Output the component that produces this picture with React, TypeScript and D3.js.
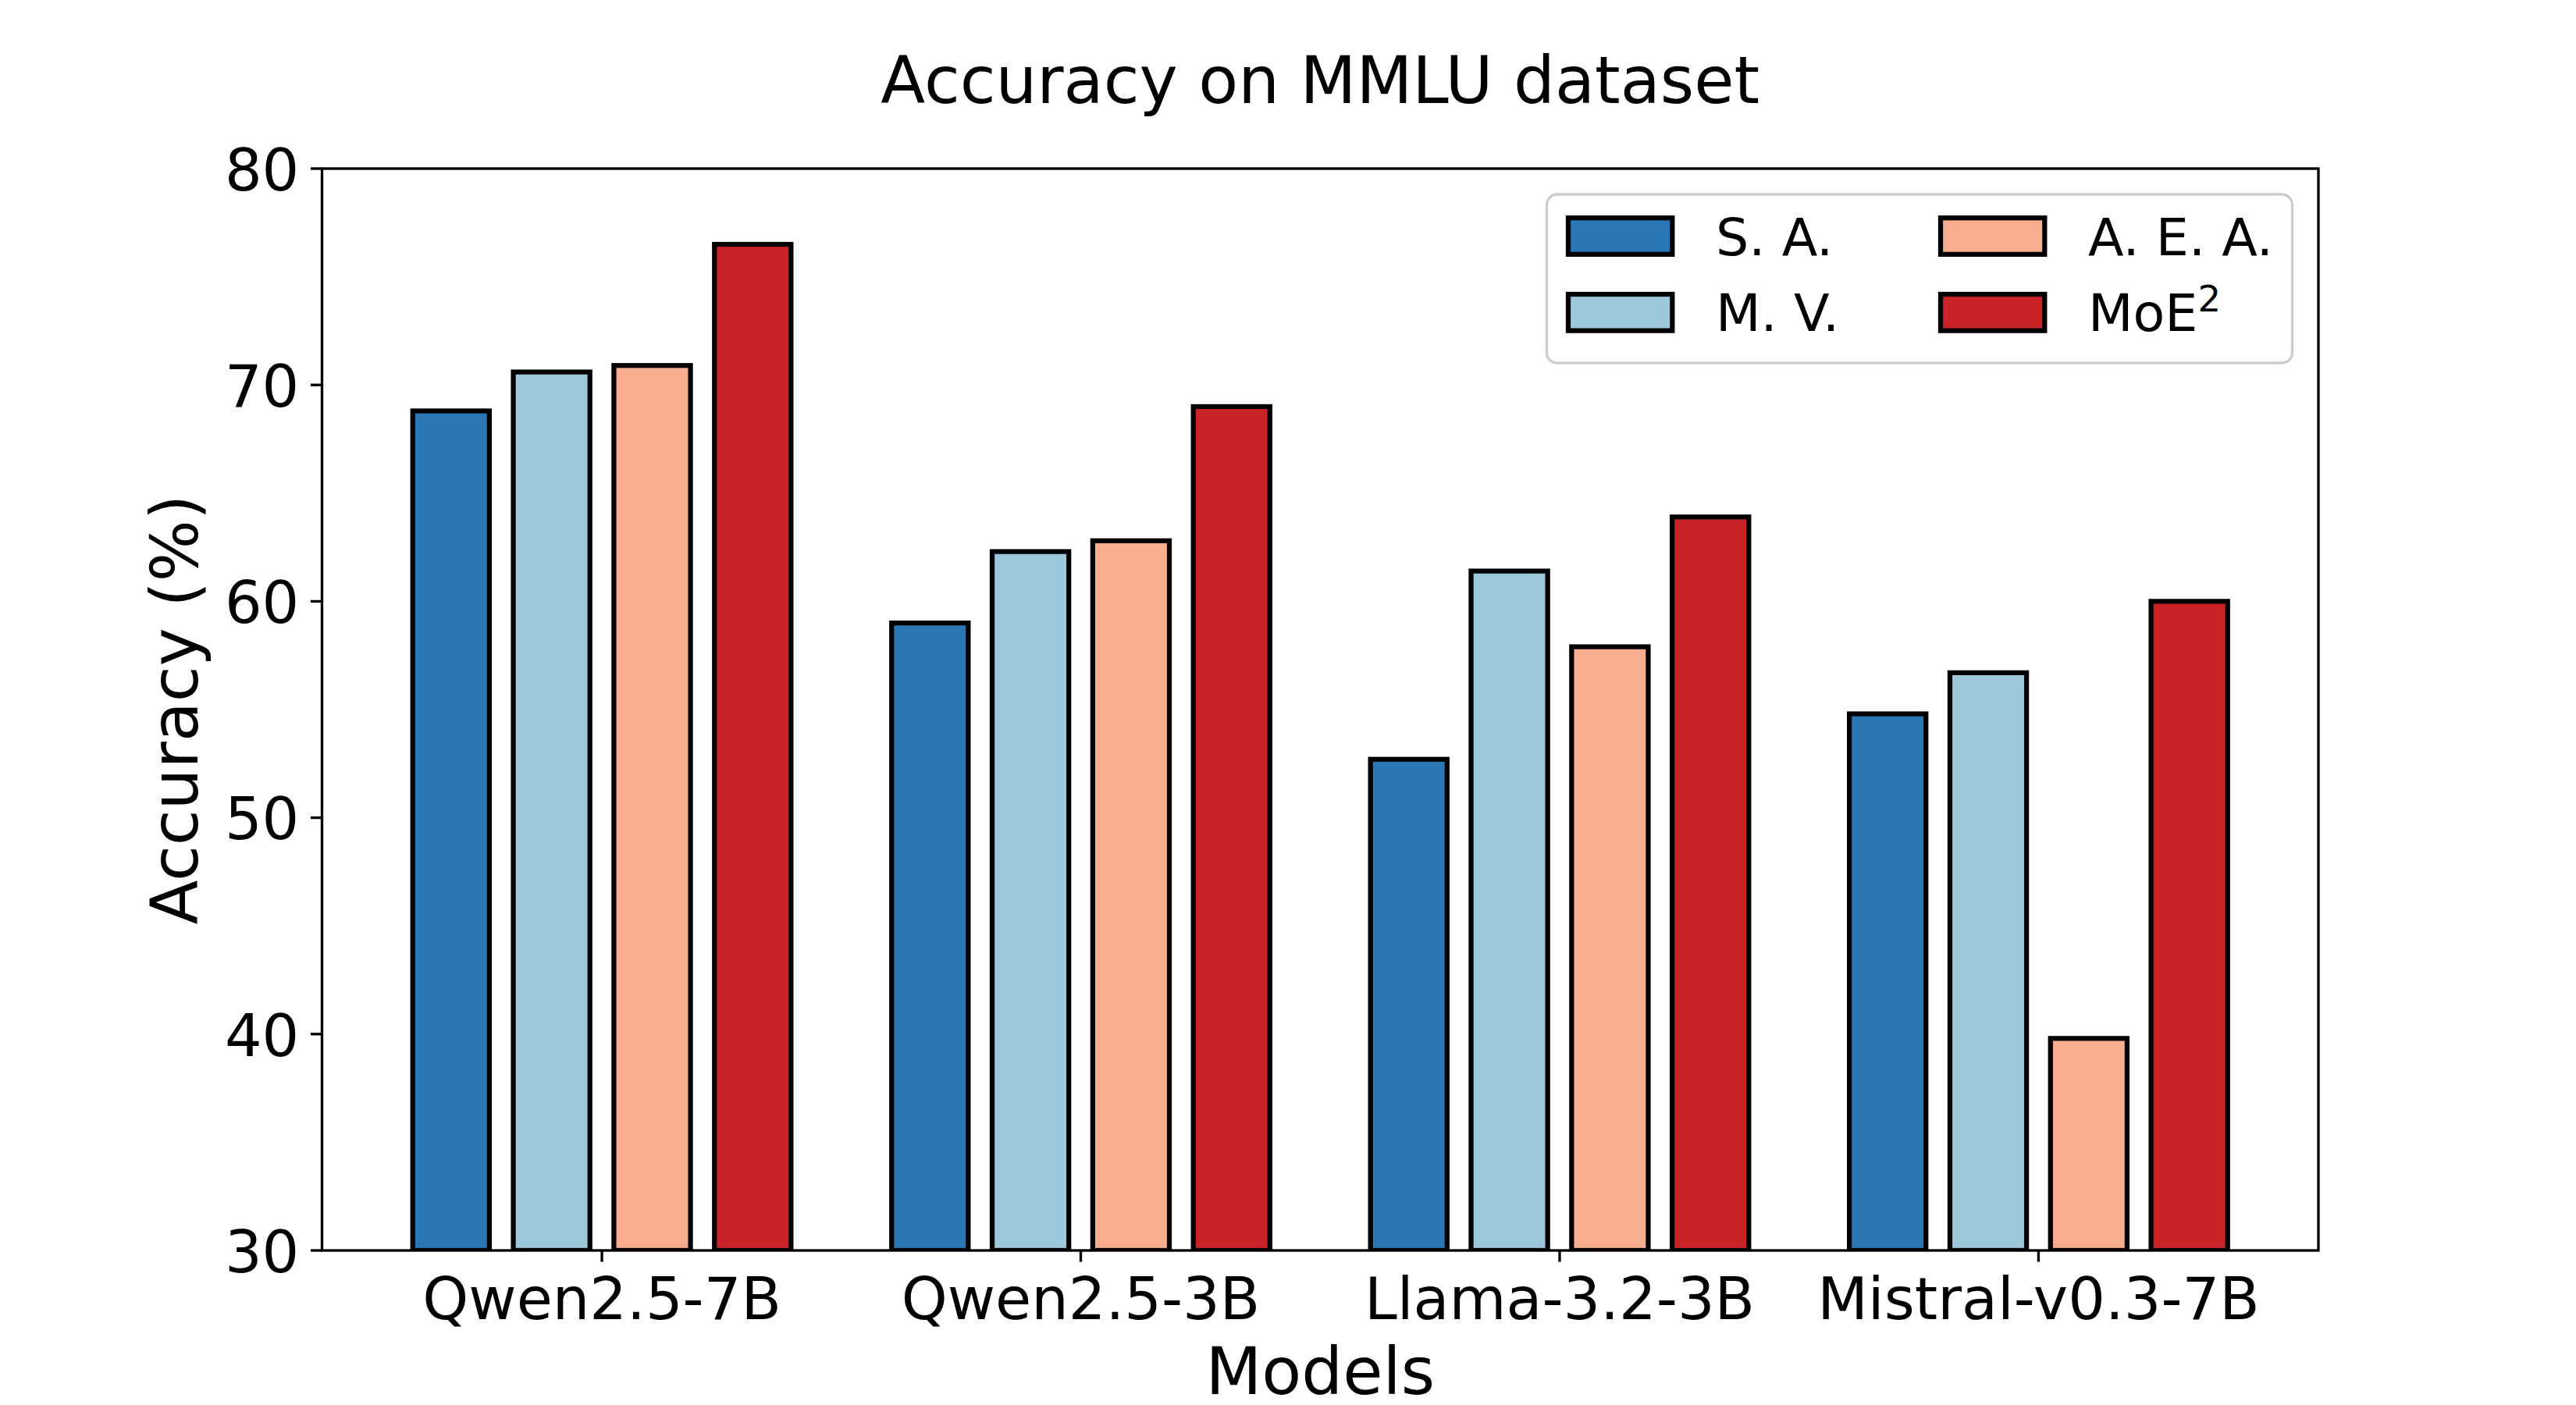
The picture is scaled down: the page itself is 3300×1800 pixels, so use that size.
import React from 'react';
import * as d3 from 'd3';

const models = ['Qwen2.5-7B', 'Qwen2.5-3B', 'Llama-3.2-3B', 'Mistral-v0.3-7B'];
const methods = ['S. A.', 'M. V.', 'A. E. A.', 'MoE2'];
const colors = ['#2a77b4', '#9dc8dc', '#f7ad8e', '#c82427'];

const saValues = [68.8, 59.0, 52.7, 54.8];
const mvValues = [70.6, 62.3, 61.4, 56.7];
const aeaValues = [70.9, 62.8, 57.9, 39.8];
const moeValues = [76.5, 69.0, 63.9, 60.0];
const seriesValues = [saValues, mvValues, aeaValues, moeValues];

const yTicks = [30, 40, 50, 60, 70, 80];

const W = 3300;
const H = 1800;
const left = 412.5;
const right = 2970;
const top = 216;
const bottom = 1602;

const font = '"DejaVu Sans", Verdana, sans-serif';
const PT = 300 / 72;

export default function App() {
  // matplotlib-like bar layout: width 0.16, step 0.21, 5% margins
  const barW = 0.16;
  const step = 0.21;
  const n = methods.length;
  const x0 = -((n - 1) / 2) * step - barW / 2;
  const x1 = models.length - 1 + ((n - 1) / 2) * step + barW / 2;
  const pad = (x1 - x0) * 0.05;

  const x = d3.scaleLinear().domain([x0 - pad, x1 + pad]).range([left, right]);
  const y = d3.scaleLinear().domain([30, 80]).range([bottom, top]);

  const tickLen = 3.5 * PT;
  const tickPad = 3.5 * PT;
  const spineW = 0.8 * PT;
  const edgeW = 1.5 * PT;
  const tickFs = 18 * PT;
  const labelFs = 20 * PT;
  const legendFs = 16 * PT;

  // legend layout
  const legX = 1981.5;
  const legY = 249;
  const legW = 955;
  const legH = 216;
  const colPatchX = [2009, 2486];
  const colTextX = [2198, 2675];
  const rowY = [302.5, 400.3];
  const patchW = 2 * legendFs;
  const patchH = 0.7 * legendFs;

  return (
    <svg
      width={W}
      height={H}
      viewBox={`0 0 ${W} ${H}`}
      style={{ position: 'absolute', left: 0, top: 0, background: '#fff' }}
      fontFamily={font}
    >
      <defs>
        <clipPath id="plot-clip">
          <rect x={left} y={top} width={right - left} height={bottom - top} />
        </clipPath>
      </defs>
      <rect x={0} y={0} width={W} height={H} fill="#fff" />

      {/* bars */}
      <g clipPath="url(#plot-clip)">
        {seriesValues.map((vals, j) =>
          vals.map((v, i) => {
            const cx = i + (j - (n - 1) / 2) * step;
            const xa = x(cx - barW / 2);
            const xb = x(cx + barW / 2);
            return (
              <rect
                key={`${j}-${i}`}
                x={xa}
                y={y(v)}
                width={xb - xa}
                height={y(30) - y(v)}
                fill={colors[j]}
                stroke="#000"
                strokeWidth={edgeW}
              />
            );
          })
        )}
      </g>

      {/* spines */}
      <rect
        x={left}
        y={top}
        width={right - left}
        height={bottom - top}
        fill="none"
        stroke="#000"
        strokeWidth={spineW}
      />

      {/* y ticks */}
      {yTicks.map((t) => (
        <g key={`y${t}`}>
          <line x1={left - tickLen} x2={left} y1={y(t)} y2={y(t)} stroke="#000" strokeWidth={spineW} />
          <text
            x={left - tickLen - tickPad}
            y={y(t) + 0.37 * tickFs}
            fontSize={tickFs}
            textAnchor="end"
            fill="#000"
          >
            {t}
          </text>
        </g>
      ))}

      {/* x ticks */}
      {models.map((m, i) => (
        <g key={m}>
          <line x1={x(i)} x2={x(i)} y1={bottom} y2={bottom + tickLen} stroke="#000" strokeWidth={spineW} />
          <text x={x(i)} y={1690} fontSize={tickFs} textAnchor="middle" fill="#000">
            {m}
          </text>
        </g>
      ))}

      {/* title and axis labels */}
      <text x={(left + right) / 2} y={131.7} fontSize={labelFs} textAnchor="middle" fill="#000">
        Accuracy on MMLU dataset
      </text>
      <text x={(left + right) / 2} y={1785.7} fontSize={labelFs} textAnchor="middle" fill="#000">
        Models
      </text>
      <text
        transform={`translate(253, ${(top + bottom) / 2}) rotate(-90)`}
        fontSize={labelFs}
        textAnchor="middle"
        fill="#000"
      >
        Accuracy (%)
      </text>

      {/* legend */}
      <rect
        x={legX}
        y={legY}
        width={legW}
        height={legH}
        rx={0.2 * legendFs}
        fill="#fff"
        fillOpacity={0.8}
        stroke="#cccccc"
        strokeWidth={spineW}
      />
      {methods.map((m, k) => {
        const col = Math.floor(k / 2);
        const row = k % 2;
        const cy = rowY[row];
        return (
          <g key={m}>
            <rect
              x={colPatchX[col]}
              y={cy - patchH / 2}
              width={patchW}
              height={patchH}
              fill={colors[k]}
              stroke="#000"
              strokeWidth={edgeW}
            />
            <text x={colTextX[col]} y={cy + 24} fontSize={legendFs} fill="#000">
              {m === 'MoE2' ? (
                <>
                  MoE
                  <tspan dy={-25} fontSize={legendFs * 0.7}>
                    2
                  </tspan>
                </>
              ) : (
                m
              )}
            </text>
          </g>
        );
      })}
    </svg>
  );
}
